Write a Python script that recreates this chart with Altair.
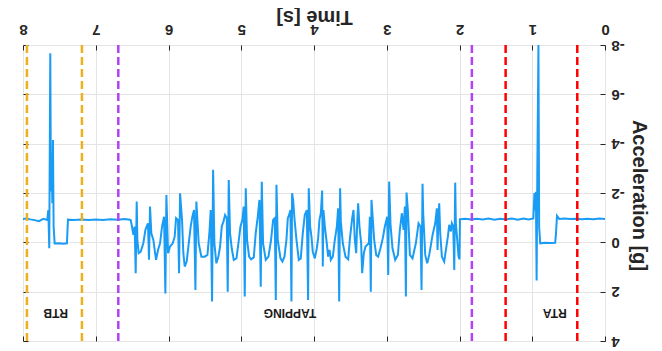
import altair as alt
import pandas as pd

# ---------------- data ----------------
rta_time = [0.00, 0.08, 0.16, 0.24, 0.32, 0.40, 0.48, 0.56, 0.63, 0.66, 0.675, 0.685, 0.75, 0.82, 0.89,
            0.905, 0.915, 0.93, 0.94, 0.95, 0.96, 0.97, 0.985, 1.05, 1.12, 1.20, 1.28, 1.36, 1.44, 1.52,
            1.60, 1.68, 1.76, 1.84, 1.92, 1.985]
rta_acc = [-0.95, -0.97, -0.94, -0.96, -0.94, -0.96, -0.95, -0.97, -0.95, -1.07, -0.30, 0.02, 0.03, 0.02, 0.04,
           -0.60, -8.00, -3.00, 1.55, -2.05, -1.30, -2.00, -0.97, -0.93, -0.97, -0.92, -0.97, -0.93, -0.96, -0.92,
           -0.97, -0.93, -0.96, -0.93, -0.96, -0.94]

tap_time = [1.994, 2.000, 2.013, 2.031, 2.050, 2.059, 2.072, 2.086, 2.105, 2.118, 2.141, 2.160, 2.187, 2.210,
            2.242, 2.265, 2.279, 2.293, 2.302, 2.311, 2.334, 2.370, 2.416, 2.444, 2.471, 2.499, 2.508, 2.522,
            2.536, 2.563, 2.600, 2.646, 2.682, 2.710, 2.728, 2.737, 2.751, 2.769, 2.792, 2.820, 2.847, 2.884,
            2.921, 2.948, 2.967, 2.980, 2.994,
            3.026, 3.054, 3.086, 3.118, 3.145, 3.173, 3.191, 3.210, 3.219, 3.232, 3.246, 3.292, 3.315, 3.338,
            3.352, 3.375, 3.393, 3.407, 3.420, 3.439, 3.457, 3.475, 3.508, 3.530, 3.567, 3.604, 3.631, 3.641,
            3.654, 3.668, 3.686, 3.714, 3.741, 3.769, 3.787, 3.806, 3.824, 3.851, 3.870, 3.879, 3.888, 3.906,
            3.925, 3.943, 3.961, 3.989, 4.017, 4.035, 4.053, 4.072, 4.081, 4.099, 4.127, 4.154, 4.182, 4.209,
            4.241, 4.269, 4.287, 4.301, 4.310, 4.324, 4.342, 4.360, 4.379, 4.406, 4.434, 4.461, 4.498, 4.516,
            4.525, 4.539, 4.562, 4.590, 4.626, 4.663, 4.700, 4.718, 4.732, 4.750, 4.773, 4.801, 4.828, 4.865,
            4.892, 4.920, 4.938, 4.952, 4.966, 4.984, 5.011, 5.039, 5.066, 5.103, 5.131, 5.154, 5.172, 5.186,
            5.199, 5.222, 5.245, 5.268, 5.291, 5.314, 5.342, 5.369,
            5.387, 5.401, 5.420, 5.438, 5.465, 5.502, 5.548, 5.585, 5.617, 5.630, 5.649, 5.672, 5.695, 5.722,
            5.750, 5.777, 5.796, 5.814, 5.841, 5.855, 5.869, 5.896, 5.915, 5.942, 5.979, 6.006, 6.029, 6.043,
            6.061, 6.089, 6.116, 6.144, 6.171, 6.190, 6.208, 6.236, 6.254, 6.268, 6.282, 6.300, 6.318, 6.346,
            6.382, 6.410, 6.428, 6.437, 6.451, 6.465, 6.483, 6.502, 6.520]
tap_acc = [-0.94, 0.69, 0.58, -0.10, -0.77, -2.42, 1.12, -0.64, -0.77, -0.44, -0.71, -0.23, 0.31, 0.78,
           0.58, -0.37, -1.58, -0.64, 0.31, -1.38, -0.77, -0.30, 0.51, 0.85, 0.51, -1.18, -2.37, 1.93,
           -0.64, -0.77, 0.04, 0.65, 0.51, -1.31, -2.02, 2.20, -1.45, -0.50, -1.18, -0.50, 0.51, 0.71,
           0.24, -0.71, -2.46, 1.32, -1.04,
           -0.64, -0.17, 0.24, 0.58, 0.51, -0.10, -0.91, -1.72, 2.00, -1.04, 0.04, 0.17, 0.44, 1.25,
           0.04, -0.64, -1.58, -0.71, 0.44, -0.10, -1.31, -0.98, -0.10, 0.69, 0.58, 0.04, -0.84, -2.19,
           2.40, -1.38, -0.64, -0.10, 0.58, 0.71, 0.31, 0.58, 0.04, -0.64, -1.31, 0.98, -2.10, -1.18,
           -0.91, -0.17, 0.24, 0.65, 0.38, -0.23, -0.64, -2.19, 2.34, -1.31, -1.11, -0.37, 0.65, 0.71,
           -0.10, -0.98, -1.72, -1.99, 2.40, -1.31, -1.11, -0.98, -0.10, 0.58, 0.78, 0.65, -0.10, -2.33,
           2.34, -0.98, -0.91, -0.10, 0.58, 0.71, 0.04, -2.46, 1.80, -1.72, -1.04, -0.37, 0.61, 0.69,
           0.58, -0.10, -2.19, 2.20, -1.45, -0.91, -0.64, 0.04, 0.65, 0.71, 0.24, -0.37, -2.53, 2.00,
           -0.98, -1.11, -0.84, -0.64, 0.17, 0.58, 0.85, 0.04,
           -2.94, 2.40, -1.31, -0.37, 0.51, 0.58, 0.58, 0.04, -1.65, 1.93, -1.31, -1.04, -0.64, 0.04,
           0.78, 0.98, 0.44, -0.91, -1.99, 1.25, -0.91, -0.98, -0.23, 0.04, 0.17, 0.44, -1.92, 2.07,
           -1.04, -0.64, 0.04, 0.31, 0.71, 0.31, -0.10, -0.37, -1.45, 0.71, -0.77, -0.64, -0.50, 0.04,
           0.38, 0.44, -0.10, -1.65, 1.25, -0.64, -0.30, -0.64, -0.91]

rtb_time = [6.53, 6.60, 6.70, 6.80, 6.90, 7.00, 7.10, 7.20, 7.30, 7.382, 7.396, 7.45, 7.50, 7.565, 7.579,
            7.588, 7.597, 7.607, 7.616, 7.625, 7.639, 7.652, 7.666, 7.72, 7.78, 7.84, 7.90, 7.96, 8.00, 8.05]
rtb_acc = [-0.92, -0.95, -0.92, -0.94, -0.91, -0.93, -0.91, -0.93, -0.91, -0.92, 0.04, 0.06, 0.04, 0.05, -0.64,
           -4.15, -1.58, -3.61, -2.06, -7.67, 0.24, -1.31, -0.91, -0.95, -0.86, -0.90, -0.93, -0.97, -0.95, -0.96]

marker_time = [7.946, 7.19, 6.69, 1.83, 1.366, 0.381]
marker_phase = ["RTB", "RTB", "TAPPING", "TAPPING", "RTA", "RTA"]

label_text = ["RTA", "TAPPING", "RTB"]
label_time = [0.69, 4.33, 7.55]
label_acc = [2.86, 2.86, 2.86]

x_ticks = [0, 1, 2, 3, 4, 5, 6, 7, 8]
y_ticks = [-8, -6, -4, -2, 0, 2, 4]

# ---------------- tables ----------------
sig = pd.DataFrame({"t": rta_time + tap_time + rtb_time, "a": rta_acc + tap_acc + rtb_acc})
marks = pd.DataFrame({"t": marker_time, "phase": marker_phase})
labels = pd.DataFrame({"t": label_time, "a": label_acc, "txt": label_text})

FONT = "Liberation Sans"
DARK = "#262626"
W, H = 582, 296
xscale = alt.Scale(domain=[0, 8], reverse=True, nice=False, zero=False)
yscale = alt.Scale(domain=[-8, 4], reverse=True, nice=False, zero=False)

x_main = alt.Axis(orient="top", values=x_ticks, title="Time [s]", grid=True, gridColor="#e4e4e4",
                  ticks=False, domain=False, labelAngle=180, labelAlign="center", labelBaseline="top",
                  labelPadding=9, labelFont=FONT, labelFontSize=15, labelFontWeight="bold",
                  labelColor=DARK, titleFont=FONT, titleFontSize=20, titleFontWeight="bold",
                  titleColor=DARK, titleAngle=180, titleBaseline="top", titleAlign="center",
                  titleX=W / 2, titleY=-19)
y_main = alt.Axis(orient="right", values=y_ticks, title="Acceleration [g]", grid=True, gridColor="#e4e4e4",
                  ticks=False, domain=False, labelAngle=180, labelAlign="right", labelBaseline="middle",
                  labelPadding=6, labelExpr="'' + datum.value", labelFont=FONT, labelFontSize=15,
                  labelFontWeight="bold", labelColor=DARK, titleFont=FONT, titleFontSize=20,
                  titleFontWeight="bold", titleColor=DARK, titleAngle=90, titleBaseline="bottom",
                  titleAlign="center", titleX=23, titleY=H / 2 + 2)

def tick_axis(orient, vals):
    return alt.Axis(orient=orient, values=vals, title=None, labels=False, grid=False, domain=False,
                    ticks=True, tickSize=5, offset=-5, tickColor=DARK, tickWidth=1)

line = alt.Chart(sig).mark_line(color="#1a9cf5", strokeWidth=2, clip=True).encode(
    x=alt.X("t:Q", scale=xscale, axis=x_main),
    y=alt.Y("a:Q", scale=yscale, axis=y_main),
    order="t:Q",
)

ghost = alt.Chart(sig).mark_line(opacity=0).encode(
    x=alt.X("t:Q", scale=xscale, axis=tick_axis("bottom", x_ticks)),
    y=alt.Y("a:Q", scale=yscale, axis=tick_axis("left", y_ticks)),
    order="t:Q",
)

rules = alt.Chart(marks).mark_rule(strokeDash=[8, 4], strokeWidth=2.5).encode(
    x=alt.X("t:Q", scale=xscale, axis=None),
    color=alt.Color("phase:N", scale=alt.Scale(domain=["RTB", "TAPPING", "RTA"],
                                               range=["#EDB120", "#B342F5", "#FF0000"]), legend=None),
)

texts = alt.Chart(labels).mark_text(angle=180, font=FONT, fontSize=12, fontWeight="bold",
                                    color="#1a1a1a", align="center", baseline="middle").encode(
    x=alt.X("t:Q", scale=xscale, axis=tick_axis("top", x_ticks)),
    y=alt.Y("a:Q", scale=yscale, axis=tick_axis("right", y_ticks)),
    text="txt:N",
)

chart = alt.layer(line, ghost, rules, texts).resolve_axis(x="independent", y="independent").properties(
    width=W, height=H,
    autosize=alt.AutoSizeParams(type="none"),
    padding={"left": 15, "top": 37, "right": 49, "bottom": 8},
).configure_view(stroke=DARK, strokeWidth=1).configure(background="white")

chart.save("out.html", embed_options={"renderer": "svg", "actions": False})
